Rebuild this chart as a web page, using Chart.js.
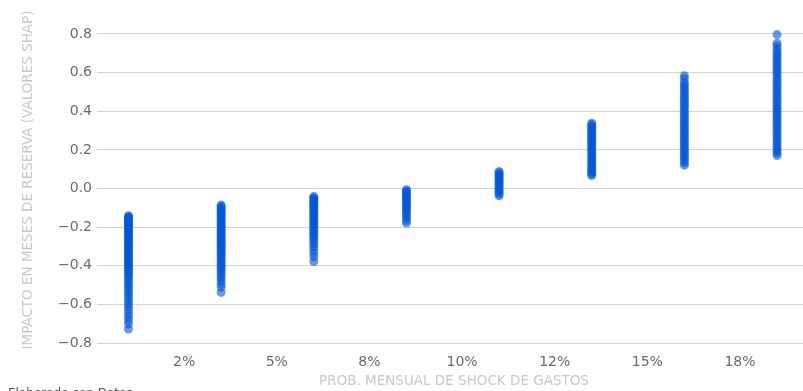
<!DOCTYPE html>
<html>
<head>
<meta charset="utf-8">
<script src="https://cdn.jsdelivr.net/npm/chart.js@4/dist/chart.umd.min.js"></script>
<style>
  html, body { margin: 0; padding: 0; background: #fff; }
  canvas { display: block; }
</style>
</head>
<body>
<canvas id="shapChart" width="803" height="391"></canvas>
<script>
// Monthly expense-shock probability levels (x positions of each strip)
const shockProbs = [0.01, 0.035, 0.06, 0.085, 0.11, 0.135, 0.16, 0.185];

// SHAP values (months of reserve) for each probability level
const shap01 = [-0.141, -0.146, -0.152, -0.158, -0.163, -0.171, -0.176, -0.184, -0.19, -0.197, -0.205, -0.211, -0.219, -0.226, -0.232, -0.241, -0.248, -0.256, -0.263, -0.27, -0.279, -0.286, -0.293, -0.302, -0.31, -0.318, -0.327, -0.335, -0.344, -0.351, -0.36, -0.368, -0.377, -0.386, -0.394, -0.403, -0.412, -0.421, -0.43, -0.44, -0.449, -0.461, -0.472, -0.486, -0.497, -0.511, -0.524, -0.538, -0.553, -0.566, -0.583, -0.597, -0.612, -0.628, -0.646, -0.664, -0.683, -0.702, -0.728];
const shap035 = [-0.086, -0.092, -0.1, -0.107, -0.115, -0.122, -0.131, -0.139, -0.147, -0.156, -0.164, -0.172, -0.181, -0.19, -0.198, -0.207, -0.216, -0.225, -0.233, -0.242, -0.251, -0.26, -0.269, -0.278, -0.287, -0.296, -0.305, -0.314, -0.323, -0.333, -0.342, -0.352, -0.362, -0.371, -0.381, -0.392, -0.402, -0.413, -0.424, -0.436, -0.449, -0.463, -0.478, -0.494, -0.511, -0.538];
const shap06 = [-0.042, -0.048, -0.055, -0.062, -0.07, -0.077, -0.085, -0.093, -0.101, -0.109, -0.117, -0.126, -0.134, -0.143, -0.151, -0.16, -0.169, -0.178, -0.187, -0.196, -0.206, -0.216, -0.226, -0.237, -0.248, -0.259, -0.272, -0.285, -0.299, -0.316, -0.334, -0.353, -0.378];
const shap085 = [-0.006, -0.013, -0.021, -0.029, -0.037, -0.045, -0.053, -0.061, -0.069, -0.078, -0.087, -0.096, -0.106, -0.116, -0.127, -0.139, -0.152, -0.166, -0.179];
const shap11 = [0.088, 0.081, 0.073, 0.065, 0.057, 0.049, 0.041, 0.033, 0.025, 0.016, 0.008, -0.001, -0.01, -0.019, -0.029, -0.038];
const shap135 = [0.338, 0.331, 0.322, 0.313, 0.304, 0.295, 0.286, 0.277, 0.268, 0.259, 0.25, 0.241, 0.232, 0.222, 0.213, 0.203, 0.194, 0.184, 0.174, 0.164, 0.154, 0.144, 0.134, 0.124, 0.114, 0.104, 0.094, 0.084, 0.075, 0.067];
const shap16 = [0.584, 0.568, 0.548, 0.536, 0.523, 0.511, 0.498, 0.486, 0.473, 0.461, 0.448, 0.436, 0.423, 0.411, 0.398, 0.386, 0.373, 0.361, 0.349, 0.337, 0.325, 0.313, 0.301, 0.289, 0.277, 0.265, 0.253, 0.241, 0.229, 0.217, 0.205, 0.193, 0.181, 0.169, 0.157, 0.145, 0.133, 0.121];
const shap185 = [0.797, 0.752, 0.738, 0.721, 0.707, 0.694, 0.681, 0.667, 0.654, 0.641, 0.628, 0.614, 0.601, 0.588, 0.574, 0.561, 0.548, 0.535, 0.521, 0.508, 0.495, 0.482, 0.469, 0.456, 0.443, 0.43, 0.417, 0.404, 0.391, 0.378, 0.365, 0.352, 0.339, 0.326, 0.313, 0.3, 0.287, 0.274, 0.261, 0.248, 0.235, 0.222, 0.209, 0.196, 0.183, 0.171];

const shapByLevel = [shap01, shap035, shap06, shap085, shap11, shap135, shap16, shap185];

// Axis ticks
const xTickValues = [0.025, 0.05, 0.075, 0.1, 0.125, 0.15, 0.175];
const xTickLabels = ['2%', '5%', '8%', '10%', '12%', '15%', '18%'];
const yTickValues = [-0.8, -0.6, -0.4, -0.2, 0, 0.2, 0.4, 0.6, 0.8];

const yTitle = 'IMPACTO EN MESES DE RESERVA (VALORES SHAP)';
const xTitle = 'PROB. MENSUAL DE SHOCK DE GASTOS';
const footer = 'Elaborado con Datos';

// Flatten into scatter points
const points = [];
shockProbs.forEach((p, i) => {
  shapByLevel[i].forEach(v => points.push({ x: p, y: v }));
});

const FONT = '"DejaVu Sans", sans-serif';

// Draws axis titles and the footer line
const titlesPlugin = {
  id: 'titles',
  afterDraw(chart) {
    const ctx = chart.ctx;
    const area = chart.chartArea;
    ctx.save();
    ctx.fillStyle = '#c8c8c8';
    ctx.font = '13.5px ' + FONT;
    ctx.textAlign = 'center';
    ctx.textBaseline = 'middle';
    ctx.fillText(xTitle, (area.left + area.right) / 2 + 4, 381);

    ctx.translate(28, 180);
    ctx.rotate(-Math.PI / 2);
    ctx.fillText(yTitle, 0, 0);
    ctx.restore();

    // footer sits mostly below the canvas edge
    ctx.save();
    ctx.fillStyle = '#555';
    ctx.font = '12px ' + FONT;
    ctx.textAlign = 'left';
    ctx.textBaseline = 'top';
    ctx.fillText(footer, 8, 387.5);
    ctx.restore();
  }
};

new Chart(document.getElementById('shapChart'), {
  type: 'scatter',
  data: {
    datasets: [{
      data: points,
      backgroundColor: 'rgba(0, 87, 217, 0.6)',
      borderWidth: 0,
      pointRadius: 4.5,
      pointHoverRadius: 4.5
    }]
  },
  options: {
    responsive: false,
    animation: false,
    devicePixelRatio: 1,
    layout: { autoPadding: false, padding: 0 },
    plugins: {
      legend: { display: false },
      tooltip: { enabled: false }
    },
    scales: {
      x: {
        type: 'linear',
        min: 0.0015,
        max: 0.192,
        afterBuildTicks: axis => { axis.ticks = xTickValues.map(v => ({ value: v })); },
        afterFit: axis => {
          axis.height = 48;
          axis.paddingLeft = 0;
          axis.paddingRight = 0;
        },
        grid: { display: false },
        border: { display: false },
        ticks: {
          padding: 3,
          color: '#6b6b6b',
          font: { family: FONT, size: 14 },
          callback: (value, index) => xTickLabels[index]
        }
      },
      y: {
        min: -0.8,
        max: 0.976,
        afterBuildTicks: axis => { axis.ticks = yTickValues.map(v => ({ value: v })); },
        afterFit: axis => {
          axis.width = 97;
          axis.paddingTop = 0;
          axis.paddingBottom = 0;
        },
        grid: { color: '#d2d2d2', lineWidth: 1, drawTicks: false },
        border: { display: false },
        ticks: {
          padding: 5,
          color: '#6b6b6b',
          font: { family: FONT, size: 14 },
          callback: value => {
            const s = Math.abs(value).toFixed(1);
            return value < -0.001 ? '\u2212' + s : s;
          }
        }
      }
    }
  },
  plugins: [titlesPlugin]
});
</script>
</body>
</html>
